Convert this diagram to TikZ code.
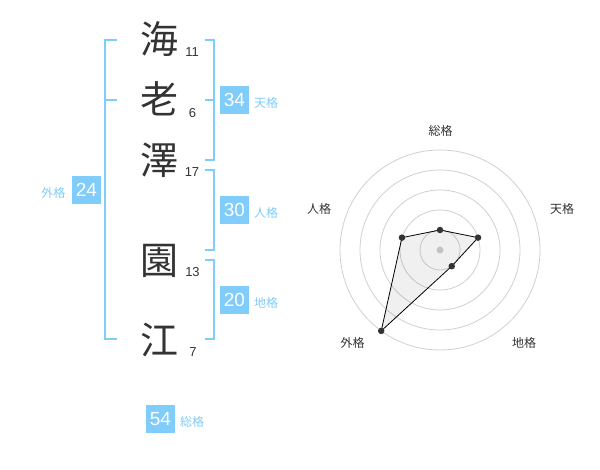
\documentclass[tikz,border=0pt]{standalone}
\usepackage{fontspec}
\setmainfont{Liberation Sans}
\newfontfamily\jp{Noto Sans CJK JP}
\usetikzlibrary{calc}
\definecolor{kblue}{HTML}{80CCFA}
\definecolor{ktext}{HTML}{333333}
\definecolor{kring}{HTML}{D0D0D0}
\begin{document}
\begin{tikzpicture}[x=1pt,y=-1pt,
  kanji/.style={font=\jp\fontsize{38}{38}\selectfont, text=ktext, inner sep=0},
  stroke/.style={font=\fontsize{13}{13}\selectfont, text=ktext, inner sep=0},
  valbox/.style={fill=kblue, text=white, minimum width=28.5, minimum height=28.5, inner sep=0, font=\fontsize{19}{19}\selectfont},
  vallabel/.style={font=\jp\fontsize{12}{12}\selectfont, text=kblue, inner sep=0},
  brk/.style={draw=kblue, line width=2pt},
  ring/.style={draw=kring, line width=0.8pt},
  axlabel/.style={font=\jp\fontsize{12}{12}\selectfont, text=ktext, inner sep=0},
  dot/.style={circle, fill=ktext, minimum size=6.5, inner sep=0},
]
\useasboundingbox (0,0) rectangle (600,470);

% name characters
\node[kanji] (c1) at (159.5,39.5) {海};
\node[kanji] (c2) at (159.5,99) {老};
\node[kanji] (c3) at (159.5,160) {澤};
\node[kanji] (c4) at (159.5,260.5) {園};
\node[kanji] (c5) at (159.5,340) {江};

\node[stroke] (n1) at (192,52) {11};
\node[stroke] (n2) at (192.5,113) {6};
\node[stroke] (n3) at (192,172.5) {17};
\node[stroke] (n4) at (192.5,272) {13};
\node[stroke] (n5) at (193,352.5) {7};

% brackets
\draw[brk] (117,40) -- (105,40) -- (105,339.5) -- (117,339.5);
\draw[brk] (105,100) -- (117,100);
\draw[brk] (205,40) -- (214,40) -- (214,160) -- (205,160);
\draw[brk] (205,100) -- (214,100);
\draw[brk] (205,170) -- (214,170) -- (214,250) -- (205,250);
\draw[brk] (205,260) -- (214,260) -- (214,339.5) -- (205,339.5);

% value boxes
\node[valbox] (ten) at (234.5,100) {34};
\node[vallabel, anchor=west] (tenl) at (254,103) {天格};
\node[valbox] (jin) at (234.5,210) {30};
\node[vallabel, anchor=west] (jinl) at (254,213) {人格};
\node[valbox] (chi) at (234.5,300) {20};
\node[vallabel, anchor=west] (chil) at (254,303) {地格};
\node[valbox] (gai) at (86.5,190) {24};
\node[vallabel, anchor=east] (gail) at (65.5,193) {外格};
\node[valbox] (sou) at (160.5,419) {54};
\node[vallabel, anchor=west] (soul) at (180,422) {総格};

% radar chart
\coordinate (c) at (440,250);
\foreach \r in {20,40,60,80,100} \draw[ring] (c) circle (\r);
\fill[kring] (c) circle (3.5);
\coordinate (p1) at ($(c)+(-90:20)$);
\coordinate (p2) at ($(c)+(-18:40)$);
\coordinate (p3) at ($(c)+(54:20)$);
\coordinate (p4) at ($(c)+(126:100)$);
\coordinate (p5) at ($(c)+(-162:40)$);
\fill[black, fill opacity=0.06] (p1) -- (p2) -- (p3) -- (p4) -- (p5) -- cycle;
\draw[black, line width=0.8pt] (p1) -- (p2) -- (p3) -- (p4) -- (p5) -- cycle;
\foreach \p in {p1,p2,p3,p4,p5} \node[dot] at (\p) {};

\node[axlabel] (a1) at (440.5,130.5) {総格};
\node[axlabel] (a2) at (562,209) {天格};
\node[axlabel] (a3) at (524,342.5) {地格};
\node[axlabel] (a4) at (352.5,342.5) {外格};
\node[axlabel] (a5) at (319,209) {人格};
\end{tikzpicture}
\end{document}
